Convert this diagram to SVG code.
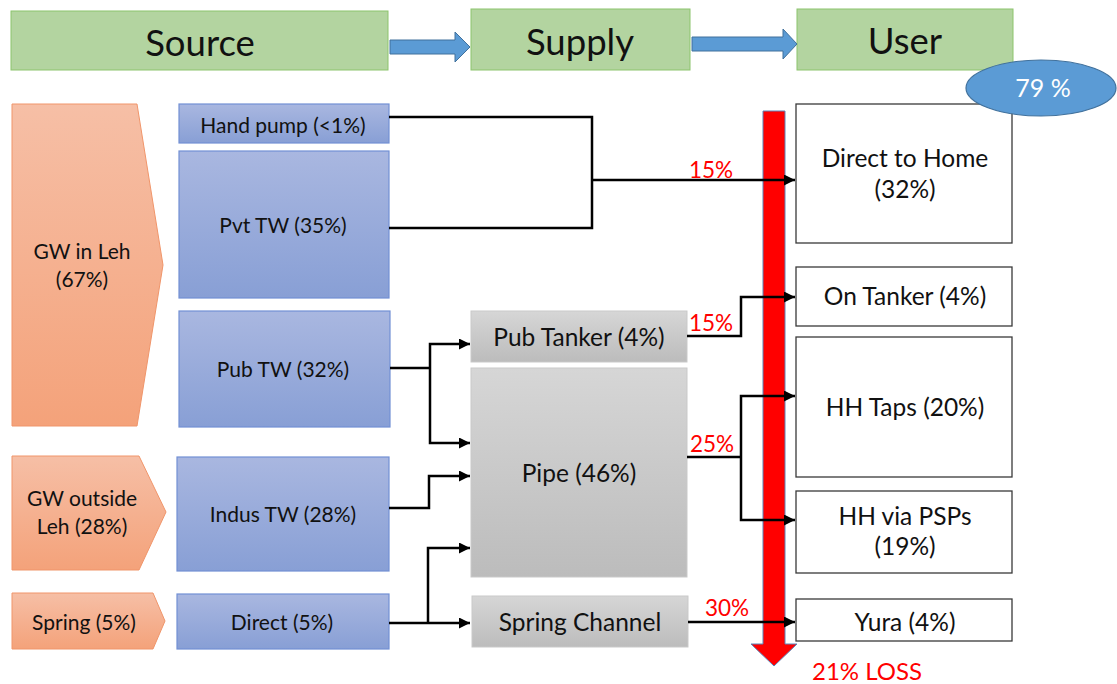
<svg xmlns="http://www.w3.org/2000/svg" width="1117" height="684" viewBox="0 0 1117 684">
<defs>
<linearGradient id="gBlue" x1="0" y1="0" x2="0" y2="1"><stop offset="0" stop-color="#a9b7e0"/><stop offset="1" stop-color="#889fd5"/></linearGradient>
<linearGradient id="gOrange" x1="0" y1="0" x2="0" y2="1"><stop offset="0" stop-color="#f6bfa6"/><stop offset="1" stop-color="#f4a27a"/></linearGradient>
<linearGradient id="gGray" x1="0" y1="0" x2="0" y2="1"><stop offset="0" stop-color="#d6d6d6"/><stop offset="1" stop-color="#bcbcbc"/></linearGradient>
<marker id="ah" viewBox="0 0 10 10" refX="10" refY="5" markerWidth="4.4" markerHeight="4.4" markerUnits="strokeWidth" orient="auto"><path d="M0,0 L10,5 L0,10 z" fill="#000"/></marker>
<style>
text{font-family:Lato,"Liberation Sans",sans-serif;fill:#111;text-anchor:middle}
.hdr rect{fill:#b3d4a0;stroke:#8cc46c;stroke-width:1}
.hdr text{font-size:36.5px}
.src{fill:url(#gOrange);stroke:#f0956a;stroke-width:1}
.blu{fill:url(#gBlue);stroke:#7290d4;stroke-width:1.2}
.gry{fill:url(#gGray);stroke:#c9c9c9;stroke-width:1}
.usr{fill:#fff;stroke:#3a3a3a;stroke-width:1.3}
.lbl{font-size:21px}
.ul{font-size:24.5px}
.pct{font-size:22.5px;fill:#ff0000;text-anchor:start}
.loss{font-size:24px;fill:#ff0000;text-anchor:start}
.bar{fill:#5b9bd5;stroke:#41719c;stroke-width:1}
#connectors path{fill:none;stroke:#000;stroke-width:2.5}
</style>
</defs>
<rect width="1117" height="684" fill="#fff"/>

<g id="headers" class="hdr">
<g id="h-source"><rect x="11" y="11" width="377" height="59"/><text x="200" y="56">Source</text></g>
<g id="h-supply"><rect x="471" y="9" width="219" height="61"/><text x="580" y="55">Supply</text></g>
<g id="h-user"><rect x="797" y="9" width="216" height="61"/><text x="905" y="54">User</text></g>
</g>
<g id="block-arrows">
<path class="bar" d="M390,40 H455 V32 L470,47 L455,62 V54 H390 Z"/>
<path class="bar" d="M692,37 H783 V29 L797,44 L783,59 V51 H692 Z"/>
</g>

<g id="loss-arrow">
<path d="M763,111 H785 V644 H797 L774,666 L751,644 H763 Z" fill="#ff0000" stroke="#5a84b8" stroke-width="1"/>
<text class="loss" x="812" y="680">21% LOSS</text>
</g>

<g id="gw-leh"><path class="src" d="M12,104 H137 L163,265 L137,426 H12 Z"/><text class="lbl" x="82" y="259">GW in Leh</text><text class="lbl" x="82" y="287">(67%)</text></g>
<g id="gw-out"><path class="src" d="M12,456 H139 L166,512 L139,570 H12 Z"/><text class="lbl" x="82" y="506">GW outside</text><text class="lbl" x="82" y="534">Leh (28%)</text></g>
<g id="spring"><path class="src" d="M12,593 H153 L165,621 L153,649 H12 Z"/><text class="lbl" x="84" y="630">Spring (5%)</text></g>

<g id="hand-pump"><rect class="blu" x="179" y="104" width="210" height="39"/><text class="lbl" x="283" y="133">Hand pump (&lt;1%)</text></g>
<g id="pvt-tw"><rect class="blu" x="179" y="151" width="210" height="147"/><text class="lbl" x="283" y="233">Pvt TW (35%)</text></g>
<g id="pub-tw"><rect class="blu" x="179" y="311" width="211" height="116"/><text class="lbl" x="283" y="377">Pub TW (32%)</text></g>
<g id="indus-tw"><rect class="blu" x="177" y="457" width="212" height="114"/><text class="lbl" x="283" y="522">Indus TW (28%)</text></g>
<g id="direct"><rect class="blu" x="177" y="594" width="212" height="55"/><text class="lbl" x="282" y="630">Direct (5%)</text></g>

<g id="pub-tanker"><rect class="gry" x="471" y="311" width="216" height="51"/><text class="ul" x="579" y="346">Pub Tanker (4%)</text></g>
<g id="pipe"><rect class="gry" x="471" y="368" width="216" height="209"/><text class="ul" x="579" y="482">Pipe (46%)</text></g>
<g id="spring-channel"><rect class="gry" x="472" y="596" width="216" height="51"/><text class="ul" x="580" y="631">Spring Channel</text></g>

<g id="direct-home"><rect class="usr" x="796" y="104" width="216" height="139"/><text class="ul" x="905" y="167">Direct to Home</text><text class="ul" x="905" y="198">(32%)</text></g>
<g id="on-tanker"><rect class="usr" x="796" y="267" width="216" height="59"/><text class="ul" x="905" y="305">On Tanker (4%)</text></g>
<g id="hh-taps"><rect class="usr" x="796" y="337" width="216" height="140"/><text class="ul" x="905" y="416">HH Taps (20%)</text></g>
<g id="hh-psp"><rect class="usr" x="796" y="491" width="216" height="82"/><text class="ul" x="905" y="525">HH via PSPs</text><text class="ul" x="905" y="555">(19%)</text></g>
<g id="yura"><rect class="usr" x="796" y="599" width="216" height="42"/><text class="ul" x="905" y="631">Yura (4%)</text></g>

<g id="connectors">
<path d="M389,117 H592 V228 H389"/>
<path d="M592,180 H795" marker-end="url(#ah)"/>
<path d="M390,368 H430"/>
<path d="M430,368 V344 H470" marker-end="url(#ah)"/>
<path d="M430,368 V443 H470" marker-end="url(#ah)"/>
<path d="M687,336 H741 V297 H795" marker-end="url(#ah)"/>
<path d="M687,457 H741"/>
<path d="M741,457 V396 H795" marker-end="url(#ah)"/>
<path d="M741,457 V520 H795" marker-end="url(#ah)"/>
<path d="M389,508 H429 V476 H470" marker-end="url(#ah)"/>
<path d="M389,623 H470" marker-end="url(#ah)"/>
<path d="M428,623 V548 H470" marker-end="url(#ah)"/>
<path d="M688,622 H795" marker-end="url(#ah)"/>
</g>

<g id="percent-labels">
<text class="pct" x="689" y="178">15%</text>
<text class="pct" x="689" y="331">15%</text>
<text class="pct" x="690" y="452">25%</text>
<text class="pct" x="705" y="616">30%</text>
</g>

<g id="share-79">
<ellipse cx="1041" cy="88" rx="75" ry="28" fill="#5b9bd5" stroke="#41719c" stroke-width="1.2"/>
<text x="1043" y="97" style="fill:#fff;font-size:25px">79 %</text>
</g>
</svg>
